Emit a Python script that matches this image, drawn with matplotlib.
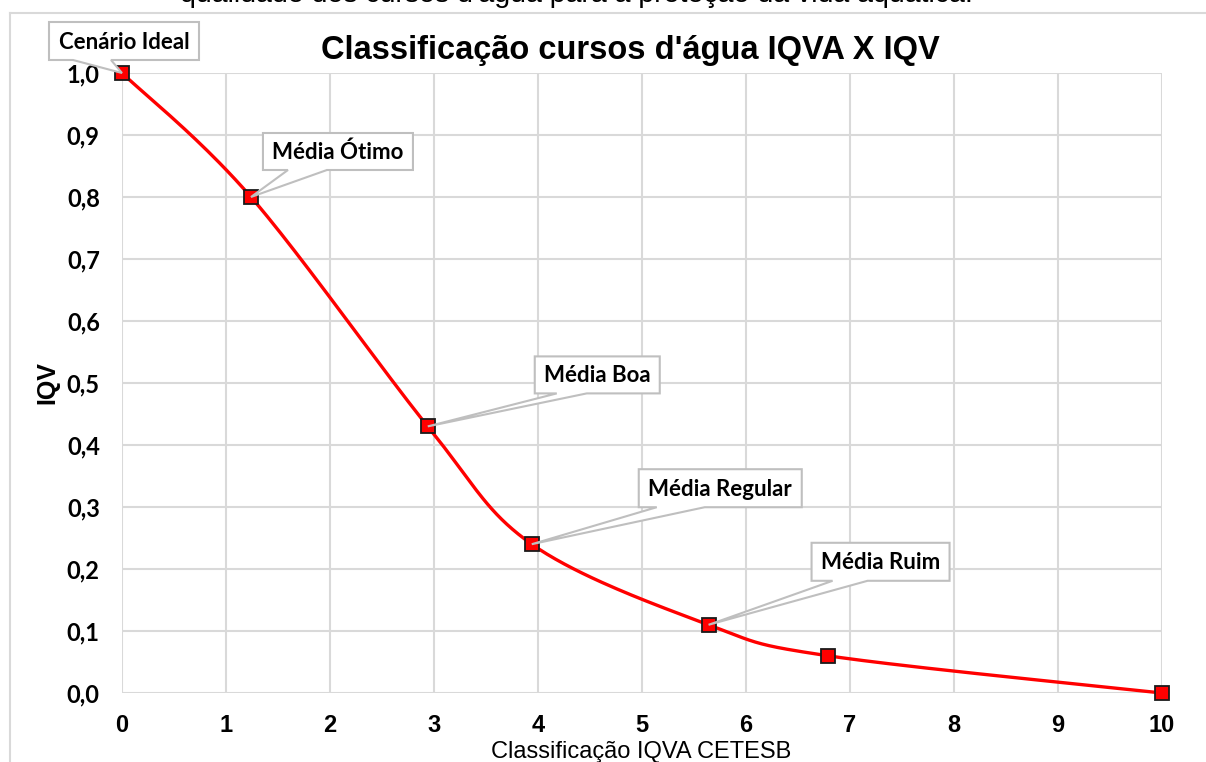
import numpy as np
import matplotlib
matplotlib.use("Agg")
import matplotlib.pyplot as plt
from matplotlib.patches import Polygon
from matplotlib.lines import Line2D

# ---- data ----
iqva = [0, 1.24, 2.94, 3.94, 5.64, 6.79, 10]
iqv = [1.0, 0.80, 0.43, 0.24, 0.11, 0.06, 0.0]
labels = ["Cenário Ideal", "Média Ótimo", "Média Boa", "Média Regular", "Média Ruim", None, None]
xticks = list(range(0, 11))
yticks = [round(0.1 * i, 1) for i in range(11)]
title = "Classificação cursos d'água IQVA X IQV"
xlabel = "Classificação IQVA CETESB"
ylabel = "IQV"
top_text = "qualidade dos cursos d'água para a proteção da vida aquática."

W, H = 1206, 762
fig = plt.figure(figsize=(W / 100, H / 100), dpi=100)
fig.patch.set_facecolor("white")

def fx(x):
    return x / W

def fy(y):
    return 1 - y / H

ax = fig.add_axes([fx(122), fy(693), (1162 - 122) / W, (693 - 73) / H])
ax.set_xlim(0, 10)
ax.set_ylim(0, 1)
for s in ax.spines.values():
    s.set_visible(False)
grid_c = "#d9d9d9"
ax.set_xticks(xticks)
ax.set_yticks(yticks)
ax.grid(True, color=grid_c, lw=1.5, zorder=0)
ax.set_axisbelow(True)
ax.tick_params(length=0)
ax.set_xticklabels([str(t) for t in xticks], fontfamily="Liberation Sans",
                   fontweight="bold", fontsize=17)
ax.set_yticklabels([f"{t:.1f}".replace(".", ",") for t in yticks],
                   fontfamily="Lato", fontweight="bold", fontsize=17)
ax.tick_params(axis="x", pad=15)
ax.tick_params(axis="y", pad=16)

# Smoothed line (Excel-like bezier smoothing, computed in pixel aspect)
sx, sy = 104.0, 620.0
P = np.column_stack([np.array(iqva) * sx, np.array(iqv) * sy])
n = len(P)
curve = []
t = np.linspace(0, 1, 40)
for i in range(n - 1):
    p0 = P[i]
    p3 = P[i + 1]
    pm = P[i - 1] if i > 0 else P[i]
    pp = P[i + 2] if i + 2 < n else P[i + 1]
    c1 = p0 + (p3 - pm) / 6.0
    c2 = p3 - (pp - p0) / 6.0
    seg = ((1 - t) ** 3)[:, None] * p0 + (3 * (1 - t) ** 2 * t)[:, None] * c1 + \
          (3 * (1 - t) * t ** 2)[:, None] * c2 + (t ** 3)[:, None] * p3
    curve.append(seg)
curve = np.vstack(curve)
ax.plot(curve[:, 0] / sx, curve[:, 1] / sy, color="#ff0000", lw=2.4, zorder=3,
        solid_capstyle="round", clip_on=False)
ax.plot(iqva, iqv, linestyle="none", marker="s", markersize=9.5,
        markerfacecolor="#ff0000", markeredgecolor="#1a1a1a", markeredgewidth=1.3,
        zorder=4, clip_on=False)

# Callouts (box offsets in pixels relative to point; image coords, y down)
callout_layout = [
    (-73, 77, -51, -13, -49, -11),
    (12, 162, -64, -27, 37, 76),
    (107, 232, -70, -33, 129, 159),
    (107, 270, -75, -37, 125, 173),
    (103, 241, -82, -44, 124, 159),
]
fig.canvas.draw()
for i, lab in enumerate(labels):
    if lab is None:
        continue
    l, r, tp, bt, b1, b2 = callout_layout[i]
    px, py_disp = ax.transData.transform((iqva[i], iqv[i]))
    py = H - py_disp
    pts_img = [(px + l, py + tp), (px + r, py + tp), (px + r, py + bt),
               (px + b2, py + bt), (px, py), (px + b1, py + bt), (px + l, py + bt)]
    pts = [(fx(a), fy(b)) for a, b in pts_img]
    poly = Polygon(pts, closed=True, transform=fig.transFigure, facecolor="white",
                   edgecolor="#bfbfbf", lw=1.5, zorder=10)
    fig.add_artist(poly)
    fig.text(fx(px + (l + r) / 2), fy(py + (tp + bt) / 2 + 1), lab, ha="center", va="center",
             fontfamily="Lato", fontweight="bold", fontsize=16, zorder=11)

# Title, axis labels, top cut text
fig.text(fx(630), fy(51), title, ha="center", va="center", fontfamily="Liberation Sans",
         fontweight="bold", fontsize=23.5)
fig.text(fx(47), fy(383), ylabel, ha="center", va="center", rotation=90,
         fontfamily="Liberation Sans", fontweight="bold", fontsize=18)
fig.text(fx(641), fy(752), xlabel, ha="center", va="center",
         fontfamily="Liberation Sans", fontsize=17)
fig.text(fx(576), fy(2), top_text, ha="center", va="baseline",
         fontfamily="Liberation Sans", fontsize=20.5)

# Outer chart frame (top and left visible)
fig.add_artist(Line2D([fx(10), fx(1206)], [fy(13), fy(13)], transform=fig.transFigure,
                      color=grid_c, lw=1.5))
fig.add_artist(Line2D([fx(10), fx(10)], [fy(13), fy(762)], transform=fig.transFigure,
                      color=grid_c, lw=1.5))

fig.savefig("out.png", dpi=100, facecolor="white")
